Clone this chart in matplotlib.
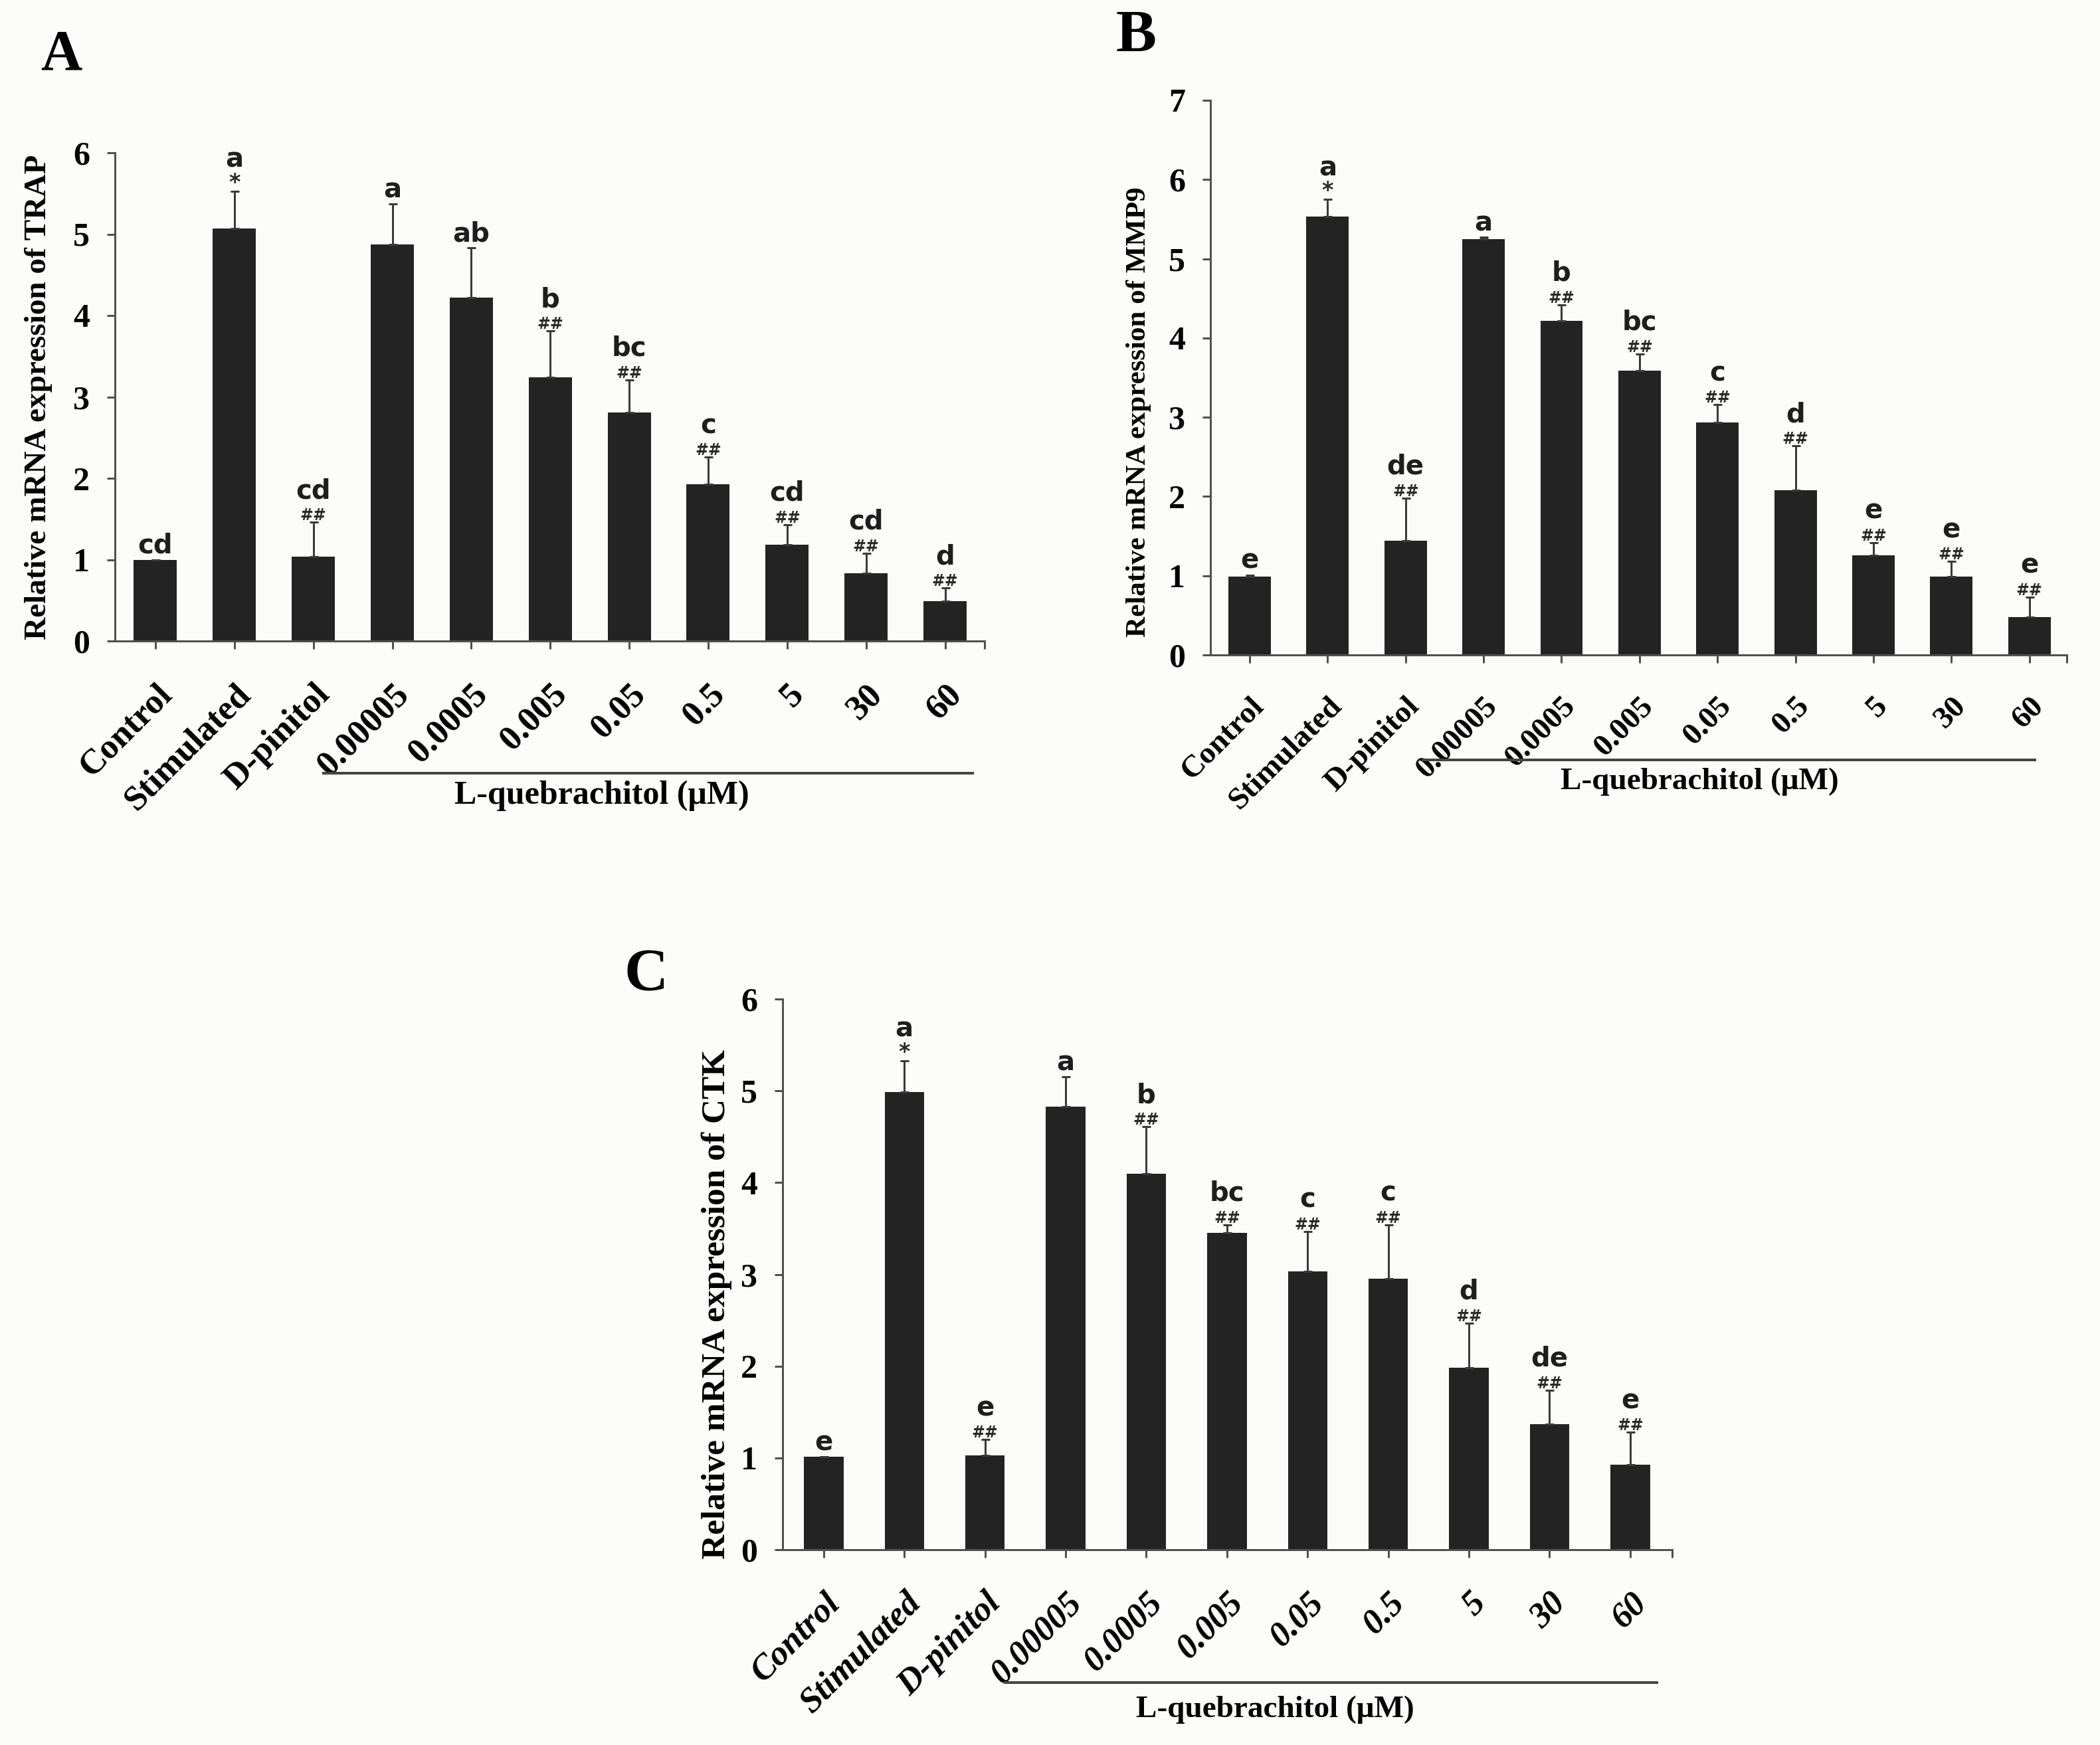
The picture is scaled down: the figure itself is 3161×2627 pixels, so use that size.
import numpy as np
import matplotlib.pyplot as plt
from matplotlib.transforms import blended_transform_factory

plt.rcParams['font.family'] = ['Liberation Serif', 'DejaVu Serif']
plt.rcParams['font.weight'] = 'bold'

# ---- data ----
groups = ['Control', 'Stimulated', 'D-pinitol', '0.00005', '0.0005', '0.005',
          '0.05', '0.5', '5', '30', '60']

trap_mean = [1.00, 5.07, 1.04, 4.87, 4.22, 3.24, 2.81, 1.93, 1.18, 0.83, 0.49]
trap_sd = [0.00, 0.46, 0.42, 0.50, 0.61, 0.57, 0.40, 0.33, 0.25, 0.25, 0.16]
trap_letters = ['cd', 'a', 'cd', 'a', 'ab', 'b', 'bc', 'c', 'cd', 'cd', 'd']
trap_marks = ['', '*', '##', '', '', '##', '##', '##', '##', '##', '##']

mmp9_mean = [0.99, 5.53, 1.44, 5.25, 4.22, 3.59, 2.93, 2.08, 1.26, 0.99, 0.48]
mmp9_sd = [0.02, 0.22, 0.54, 0.02, 0.20, 0.21, 0.23, 0.56, 0.16, 0.19, 0.25]
mmp9_letters = ['e', 'a', 'de', 'a', 'b', 'bc', 'c', 'd', 'e', 'e', 'e']
mmp9_marks = ['', '*', '##', '', '##', '##', '##', '##', '##', '##', '##']

ctk_mean = [1.01, 4.99, 1.03, 4.83, 4.10, 3.45, 3.03, 2.95, 1.98, 1.37, 0.93]
ctk_sd = [0.00, 0.34, 0.17, 0.32, 0.51, 0.09, 0.44, 0.59, 0.49, 0.37, 0.35]
ctk_letters = ['e', 'a', 'e', 'a', 'b', 'bc', 'c', 'c', 'd', 'de', 'e']
ctk_marks = ['', '*', '##', '', '##', '##', '##', '##', '##', '##', '##']

W, H, DPI = 3161, 2627, 100
bg = '#fcfcfa'
bar_col = '#232323'
axis_col = '#505050'


def px(v):
    # pixels -> points
    return v * 72.0 / DPI


fig = plt.figure(figsize=(W / DPI, H / DPI), dpi=DPI, facecolor=bg)


def axes_px(left, right, top, bottom):
    return fig.add_axes([left / W, 1 - bottom / H, (right - left) / W, (bottom - top) / H])


def panel(ax, mean, sd, letters, marks, ymax, ylabel, xlim, bw,
          xtick_fs, ylab_fs, ylab_xy, italic, line_y, text_y, text_x, span, q_fs):
    x = np.arange(len(groups))
    mean = np.array(mean)
    sd = np.array(sd)
    ax.set_facecolor(bg)
    ax.bar(x, mean, width=bw, color=bar_col, zorder=2)
    ax.errorbar(x, mean, yerr=[np.zeros(len(x)), sd], fmt='none', ecolor='#3a3a3a',
                elinewidth=px(3), capsize=px(6.5), capthick=px(3), zorder=3)

    top = mean + sd
    for i in x:
        if marks[i]:
            ax.annotate(marks[i], (i, top[i]), xytext=(0, px(3)), textcoords='offset points',
                        ha='center', va='baseline', fontsize=17 if marks[i] == '##' else 24,
                        family='DejaVu Sans', weight='bold', color='#2a2a2a', zorder=4)
            off = 36
        else:
            off = 10
        ax.annotate(letters[i], (i, top[i]), xytext=(0, px(off)), textcoords='offset points',
                    ha='center', va='baseline', fontsize=29, family='DejaVu Sans',
                    weight='bold', color='#1e1e1e', zorder=4)

    ax.set_xlim(*xlim)
    ax.set_ylim(0, ymax)
    ax.set_yticks(range(ymax + 1))
    ax.set_yticklabels([str(v) for v in range(ymax + 1)], fontsize=36)
    ax.set_xticks(x)
    ax.set_xticklabels(groups, rotation=45, ha='right', va='top', rotation_mode='anchor',
                       fontsize=xtick_fs, style='italic' if italic else 'normal')
    ax.set_xticks([xlim[1]], minor=True)
    ax.tick_params(axis='both', which='both', direction='out', length=px(12), width=px(3),
                   color=axis_col)
    ax.tick_params(axis='y', pad=px(26))
    ax.tick_params(axis='x', pad=px(44))
    for s in ['top', 'right']:
        ax.spines[s].set_visible(False)
    for s in ['left', 'bottom']:
        ax.spines[s].set_color(axis_col)
        ax.spines[s].set_linewidth(px(3))

    ax.text(ylab_xy[0], ylab_xy[1], ylabel, transform=ax.transAxes, rotation=90,
            ha='center', va='center', fontsize=ylab_fs)

    trans = blended_transform_factory(ax.transData, ax.transAxes)
    ax.plot(span, [line_y, line_y], transform=trans, clip_on=False, color='#444444', lw=px(4))
    ax.text(text_x, text_y, 'L-quebrachitol (\u03bcM)', transform=trans, ha='center',
            va='center', fontsize=q_fs)


axA = axes_px(173, 1482, 230, 965)
panel(axA, trap_mean, trap_sd, trap_letters, trap_marks, 6,
      'Relative mRNA expression of TRAP', (-0.513, 10.5), 0.547,
      38, 34, (-0.088, 0.5), False, -0.271, -0.317, 5.65, (2.13, 10.35), 36)

axB = axes_px(1822, 3111, 151, 986)
panel(axB, mmp9_mean, mmp9_sd, mmp9_letters, mmp9_marks, 7,
      'Relative mRNA expression of MMP9', (-0.503, 10.48), 0.545,
      34, 31, (-0.084, 0.438), False, -0.189, -0.228, 5.77, (2.22, 10.07), 34)

axC = axes_px(1178, 2517, 1504, 2333)
panel(axC, ctk_mean, ctk_sd, ctk_letters, ctk_marks, 6,
      'Relative mRNA expression of CTK', (-0.51, 10.52), 0.49,
      38, 37, (-0.074, 0.446), True, -0.241, -0.291, 5.6, (2.25, 10.33), 34)

fig.text(92 / W, 1 - 84 / H, 'A', ha='center', va='center', fontsize=62)
fig.text(1710 / W, 1 - 56 / H, 'B', ha='center', va='center', fontsize=66)
fig.text(973 / W, 1 - 1469 / H, 'C', ha='center', va='center', fontsize=66)

fig.savefig('out.png', dpi=DPI, facecolor=bg)
